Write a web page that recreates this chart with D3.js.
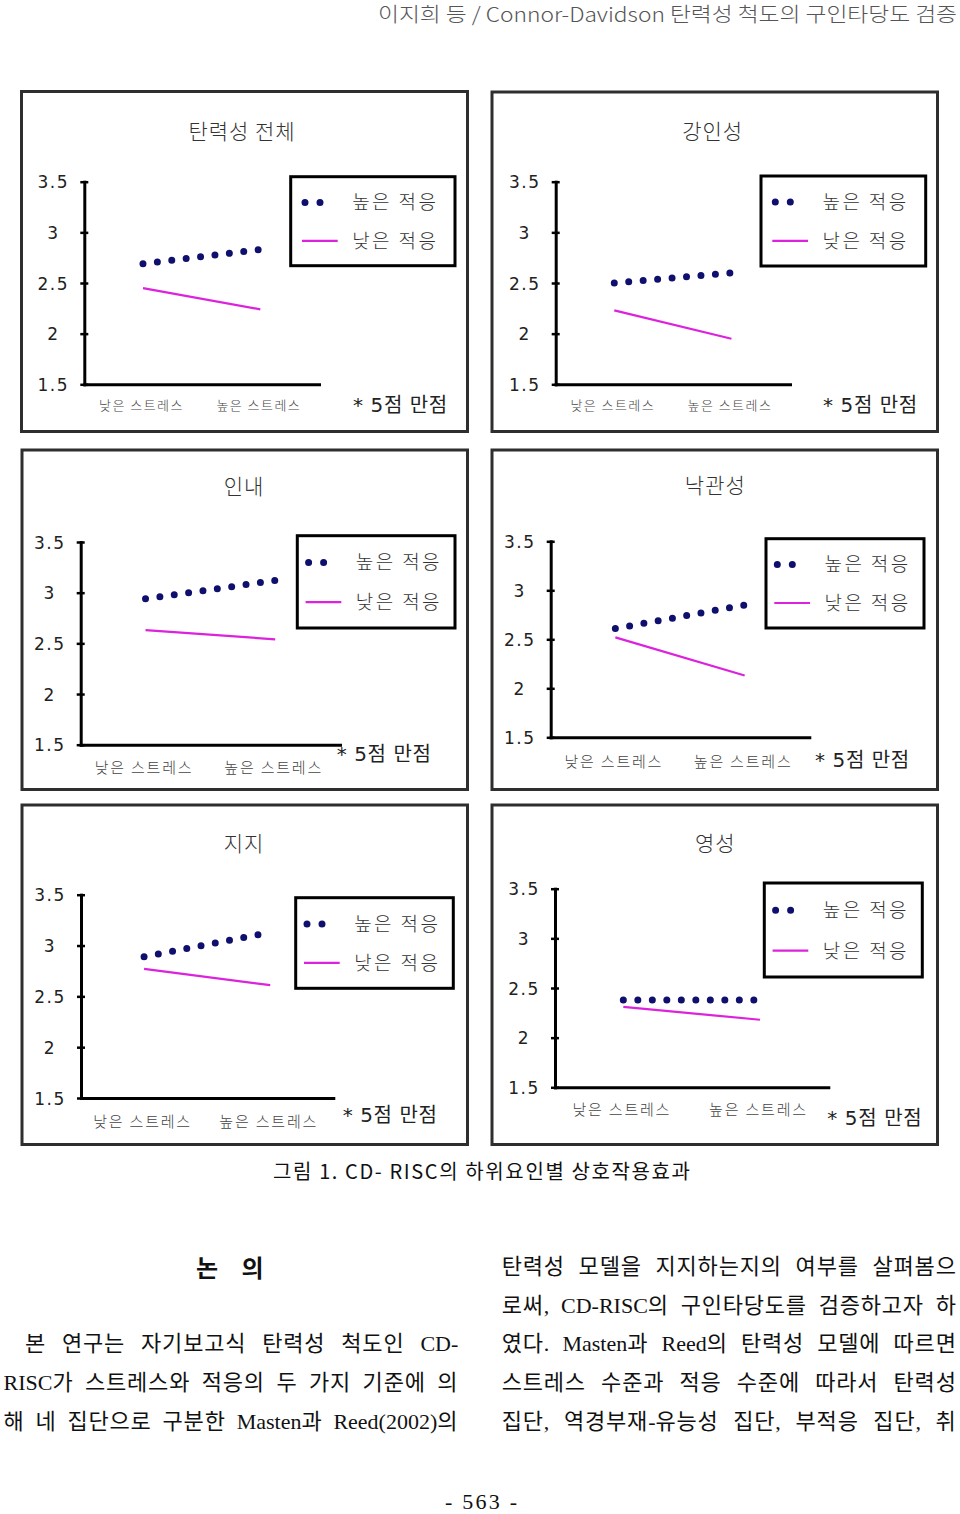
<!DOCTYPE html>
<html><head><meta charset="utf-8">
<script src="https://cdn.jsdelivr.net/npm/d3@7"></script>
<style>html,body{margin:0;padding:0;background:#fff;} svg{display:block;}</style>
</head><body>
<svg id="page" width="960" height="1514"></svg>
<script>
// ---------------- data ----------------
const panelTitles = ["탄력성 전체", "강인성", "인내", "낙관성", "지지", "영성"];
const stressLevels = ["낮은 스트레스", "높은 스트레스"];
const seriesNames = ["높은 적응", "낮은 적응"];
// mean scores (5-point scale) : [low stress, high stress]
const highAdapt = [[2.69, 2.83], [2.50, 2.60], [2.94, 3.12], [2.61, 2.85], [2.89, 3.13], [2.38, 2.38]];
const lowAdapt  = [[2.45, 2.24], [2.23, 1.95], [2.63, 2.54], [2.52, 2.13], [2.77, 2.61], [2.31, 2.18]];
const yTicks = [1.5, 2, 2.5, 3, 3.5];
const yTickLabels = ["1.5", "2", "2.5", "3", "3.5"];
const scaleNote = "* 5점 만점";
const headerText = "이지희 등 / Connor-Davidson 탄력성 척도의 구인타당도 검증";
const captionText = "그림 1. CD- RISC의 하위요인별 상호작용효과";
const sectionTitle = "논  의";
const leftColumn = [
  "본 연구는 자기보고식 탄력성 척도인 CD-",
  "RISC가 스트레스와 적응의 두 가지 기준에 의",
  "해 네 집단으로 구분한 Masten과 Reed(2002)의"
];
const rightColumn = [
  "탄력성 모델을 지지하는지의 여부를 살펴봄으",
  "로써, CD-RISC의 구인타당도를 검증하고자 하",
  "였다. Masten과 Reed의 탄력성 모델에 따르면",
  "스트레스 수준과 적응 수준에 따라서 탄력성",
  "집단, 역경부재-유능성 집단, 부적응 집단, 취"
];
const pageNumber = "- 563 -";

// ---------------- layout (positions / sizes only) ----------------
const layout = [
  {frame:[21.5,91.5,446,340],   axisX:84.3,  axisEnd:319,   y0:384.3,  y1:181.7, title:[242,131.7],   legend:[290.7,176.7,164.3,89],  legPad:3, note:[353,405],     catY:20.7, catSize:13, catLs:1.45},
  {frame:[492,92,445.5,339.5],  axisX:555.7, axisEnd:790,   y0:384.3,  y1:181.7, title:[712.7,131.7], legend:[761,176,164.7,90],      legPad:3, note:[823,405],     catY:20.7, catSize:13, catLs:1.45},
  {frame:[22,450,445.5,339.5],  axisX:80.7,  axisEnd:340,   y0:744.7,  y1:542,   title:[244,486.3],   legend:[297.3,535.7,157.7,92.3],legPad:0, note:[336.7,754],   catY:23.3, catSize:15, catLs:1.8},
  {frame:[492,450,445.5,339.5], axisX:550.7, axisEnd:809.3, y0:737.3,  y1:541.3, title:[715.3,485.3], legend:[766,538.7,158,89.3],    legPad:0, note:[815,759.7],   catY:24,   catSize:15, catLs:1.8},
  {frame:[22,805,445.5,339.5],  axisX:81,    axisEnd:333.3, y0:1098,   y1:894.7, title:[244,843],     legend:[295.7,897.7,157.6,90.6],legPad:0, note:[342.7,1114.7],catY:23.3, catSize:15, catLs:1.8},
  {frame:[492,805,445.5,339.5], axisX:555,   axisEnd:828.3, y0:1087.3, y1:888.7, title:[715.3,843],   legend:[764.3,883,158,94],      legPad:0, note:[827.3,1118],  catY:22.4, catSize:15, catLs:1.8}
];

const NAVY = "#0f0f6e";
const MAGENTA = "#dc22dc";
const CHART_FONT = "'DejaVu Sans','Noto Sans CJK KR',sans-serif";
const KO_FONT = "'Noto Sans CJK KR',sans-serif";
const DOT_GAP = 14.5;

const svg = d3.select("#page");
svg.append("rect").attr("width", 960).attr("height", 1514).attr("fill", "#fff");

// ---------------- panels ----------------
layout.forEach((L, i) => {
  const g = svg.append("g");
  g.append("rect")
    .attr("x", L.frame[0]).attr("y", L.frame[1])
    .attr("width", L.frame[2]).attr("height", L.frame[3])
    .attr("fill", "none").attr("stroke", "#2e2e2e").attr("stroke-width", 3);

  const x = d3.scaleBand().domain(stressLevels).range([L.axisX, L.axisEnd]);
  const y = d3.scaleLinear().domain([1.5, 3.5]).range([L.y0, L.y1]);
  const cx = k => x(stressLevels[k]) + x.bandwidth() / 2;

  // title
  g.append("text")
    .attr("x", L.title[0]).attr("y", L.title[1]).attr("dy", "0.36em")
    .attr("text-anchor", "middle")
    .attr("font-family", KO_FONT).attr("font-size", 21).attr("font-weight", 300)
    .attr("fill", "#333").style("letter-spacing", "1px")
    .text(panelTitles[i]);

  // y axis
  const ya = g.append("g").attr("transform", `translate(${L.axisX},0)`)
    .call(d3.axisLeft(y).tickValues(yTicks).tickFormat((d, j) => yTickLabels[j]).tickSize(4).tickSizeOuter(0));
  ya.select(".domain").attr("stroke", "#000").attr("stroke-width", 3).attr("stroke-linecap", "square");
  ya.selectAll(".tick line").attr("stroke", "#000").attr("stroke-width", 2.5);
  ya.selectAll(".tick text")
    .attr("x", -31).attr("dy", "0.36em").attr("text-anchor", "middle")
    .attr("font-family", CHART_FONT).attr("font-size", 17).attr("fill", "#222")
    .style("letter-spacing", "1.5px");
  const yb = g.append("g").attr("transform", `translate(${L.axisX},0)`)
    .call(d3.axisRight(y).tickValues(yTicks).tickFormat("").tickSize(4).tickSizeOuter(0));
  yb.select(".domain").remove();
  yb.selectAll(".tick line").attr("stroke", "#000").attr("stroke-width", 2.5);

  // x axis
  const xa = g.append("g").attr("transform", `translate(0,${L.y0})`)
    .call(d3.axisBottom(x).tickSize(0).tickSizeOuter(0));
  xa.select(".domain").attr("stroke", "#000").attr("stroke-width", 3).attr("stroke-linecap", "square");
  xa.selectAll(".tick text")
    .attr("y", L.catY).attr("dy", "0.36em").attr("x", -1.5)
    .attr("font-family", KO_FONT).attr("font-size", L.catSize).attr("font-weight", 300)
    .attr("fill", "#444").style("letter-spacing", L.catLs + "px");

  // series
  const line = d3.line().x((d, k) => cx(k)).y(d => y(d));
  g.append("path").datum(lowAdapt[i]).attr("d", line)
    .attr("fill", "none").attr("stroke", MAGENTA).attr("stroke-width", 2.2);
  g.append("path").datum(highAdapt[i]).attr("d", line)
    .attr("fill", "none").attr("stroke", NAVY).attr("stroke-width", 7)
    .attr("stroke-linecap", "round").attr("stroke-dasharray", `0 ${DOT_GAP}`);

  // legend
  const [lx, ly, lw, lh] = L.legend, p = L.legPad;
  const r1 = ly + lh * 0.29, r2 = ly + lh * 0.72;
  g.append("rect").attr("x", lx).attr("y", ly).attr("width", lw).attr("height", lh)
    .attr("fill", "#fff").attr("stroke", "#000").attr("stroke-width", 3);
  g.append("path").attr("d", `M${lx + 11.3 + p},${r1}h15.2`)
    .attr("fill", "none").attr("stroke", NAVY).attr("stroke-width", 7)
    .attr("stroke-linecap", "round").attr("stroke-dasharray", "0 15");
  g.append("line").attr("x1", lx + 8.3 + p).attr("x2", lx + 44 + p).attr("y1", r2).attr("y2", r2)
    .attr("stroke", MAGENTA).attr("stroke-width", 2.2);
  [r1, r2].forEach((ry, k) => {
    g.append("text").attr("x", lx + 58.5 + p).attr("y", ry).attr("dy", "0.36em")
      .attr("font-family", KO_FONT).attr("font-size", 19).attr("font-weight", 300)
      .attr("fill", "#333").style("letter-spacing", "2.4px")
      .text(seriesNames[k]);
  });

  // note
  g.append("text").attr("x", L.note[0]).attr("y", L.note[1]).attr("dy", "0.36em")
    .attr("font-family", CHART_FONT).attr("font-size", 20).attr("fill", "#222")
    .style("letter-spacing", "0.6px")
    .text(scaleNote);
});

// ---------------- page texts ----------------
svg.append("text").attr("x", 378).attr("y", 15).attr("dy", "0.36em")
  .attr("font-family", KO_FONT).attr("font-size", 20).attr("font-weight", 300).attr("fill", "#555")
  .attr("textLength", 579).attr("lengthAdjust", "spacingAndGlyphs")
  .text(headerText);

svg.append("text").attr("x", 273).attr("y", 1171.7).attr("dy", "0.36em")
  .attr("font-family", KO_FONT).attr("font-size", 20).attr("fill", "#111")
  .attr("textLength", 417).attr("lengthAdjust", "spacing")
  .text(captionText);

svg.append("text").attr("x", 196).attr("y", 1268).attr("dy", "0.36em")
  .attr("font-family", KO_FONT).attr("font-size", 24).attr("font-weight", 700).attr("fill", "#111")
  .attr("textLength", 67.5).attr("lengthAdjust", "spacing")
  .text(sectionTitle);

function justifiedLine(str, x0, x1, yc, size) {
  const t = svg.append("text").attr("x", x0).attr("y", yc).attr("dy", "0.36em")
    .attr("font-size", size).attr("fill", "#111").style("letter-spacing", "0.8px");
  const runs = str.match(/[\x21-\x7e]+|[^\x21-\x7e]+/g);
  runs.forEach(r => {
    const latin = /[\x21-\x7e]/.test(r);
    t.append("tspan")
      .attr("font-family", latin ? "'Liberation Serif',serif" : KO_FONT)
      .style("letter-spacing", latin ? "0px" : "0.8px")
      .text(r);
  });
  const natural = t.node().getComputedTextLength();
  const spaces = (str.match(/ /g) || []).length;
  if (spaces) t.style("word-spacing", ((x1 - x0 - natural) / spaces) + "px");
}

const colLineY = [1343.5, 1382.5, 1421.5];
leftColumn.forEach((s, k) => justifiedLine(s, k === 0 ? 25 : 3.5, 458.3, colLineY[k], 22));
const rightLineY = [1266.5, 1305, 1343.5, 1382.5, 1421.5];
rightColumn.forEach((s, k) => justifiedLine(s, 501.7, 956.7, rightLineY[k], 22));

svg.append("text").attr("x", 445).attr("y", 1501).attr("dy", "0.36em")
  .attr("font-family", "'Liberation Serif',serif").attr("font-size", 22).attr("fill", "#111")
  .attr("textLength", 72).attr("lengthAdjust", "spacing")
  .text(pageNumber);
</script>
</body></html>
